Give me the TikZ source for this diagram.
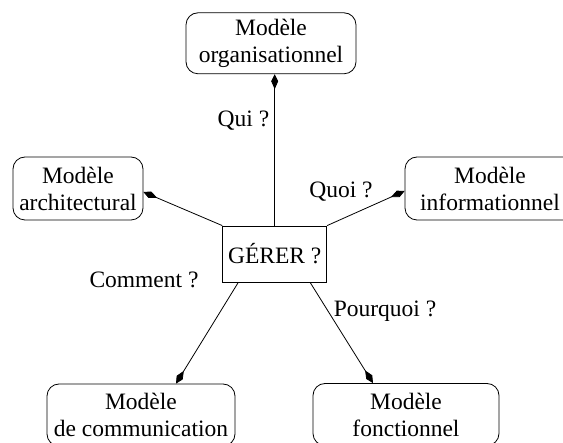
\documentclass[tikz,border=0pt]{standalone}
\usepackage{fontspec}
\setmainfont{Liberation Serif}
\usetikzlibrary{arrows.meta}
\begin{document}
\begin{tikzpicture}[x=1pt,y=-1pt,
  every node/.style={font=\fontsize{23.5}{27}\selectfont, inner sep=0pt},
  model/.style={draw, rounded corners=12pt, align=center, line width=0.8pt},
  center/.style={draw, line width=0.8pt, align=center},
  lbl/.style={},
  conn/.style={line width=0.8pt, -{Kite[length=15pt,width=7pt,inset=8pt]}}]
\useasboundingbox (0,0) rectangle (563,443);
\clip (0,0) rectangle (563,443);
\node[model, minimum width=170pt, minimum height=61pt] (top) at (271,43.3) {Modèle\\organisationnel};
\node[model, minimum width=130pt, minimum height=63pt] (left) at (78,188.5) {Modèle\\architectural};
\node[model, minimum width=170pt, minimum height=63pt] (right) at (490,188.5) {Modèle\\informationnel};
\node[center, minimum width=104pt, minimum height=56pt] (g) at (274.7,254) {GÉRER ?};
\node[model, minimum width=188pt, minimum height=62pt] (bl) at (141,415) {Modèle\\de communication};
\node[model, minimum width=186pt, minimum height=62pt] (br) at (406,414.5) {Modèle\\fonctionnel};
\node[lbl] (qui) at (243.5,121) {Qui ?};
\node[lbl] (quoi) at (341,192) {Quoi ?};
\node[lbl] (comment) at (144,280) {Comment ?};
\node[lbl] (pourquoi) at (385,311) {Pourquoi ?};
\draw[conn] (g.north) -- (g.north |- top.south);
\draw[conn] (g.north west) -- ([yshift=-3.5pt]left.east);
\draw[conn] (g.north east) -- ([yshift=-2.5pt]right.west);
\draw[conn] ([xshift=16pt]g.south west) -- ([xshift=35pt]bl.north);
\draw[conn] ([xshift=-17pt]g.south east) -- ([xshift=-33pt]br.north);
\end{tikzpicture}
\end{document}
